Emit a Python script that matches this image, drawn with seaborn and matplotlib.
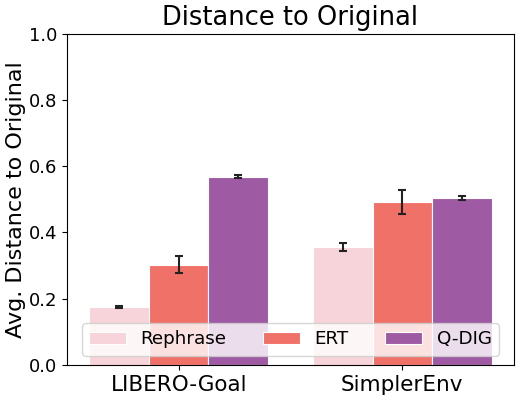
import matplotlib
matplotlib.use("Agg")
from matplotlib import pyplot
import seaborn
import pandas as pd

envs = ["LIBERO-Goal", "SimplerEnv"]
methods = ["Rephrase", "ERT", "Q-DIG"]
means = {
    "Rephrase": [0.176, 0.356],
    "ERT": [0.302, 0.492],
    "Q-DIG": [0.568, 0.504],
}
errs = {
    "Rephrase": [0.003, 0.013],
    "ERT": [0.026, 0.037],
    "Q-DIG": [0.005, 0.007],
}
colors = ["#F7D3DA", "#F07167", "#9E5AA3"]

rows = []
for m in methods:
    for env, v, e in zip(envs, means[m], errs[m]):
        rows.append({"Environment": env, "Method": m, "Distance": v, "Err": e})
df = pd.DataFrame(rows)

fig = pyplot.figure(figsize=(5.22, 4.01), dpi=100)
ax = fig.add_axes([0.128, 0.09, 0.857, 0.826])
seaborn.barplot(data=df, x="Environment", y="Distance", hue="Method",
                hue_order=methods, palette=colors, errorbar=None,
                saturation=1, edgecolor="white", linewidth=0.8, ax=ax)

# error bars at bar centres
for patch_group, m in zip(ax.containers, methods):
    sub = df[df["Method"] == m].set_index("Environment").loc[envs]
    xs = [p.get_x() + p.get_width() / 2 for p in patch_group]
    ax.errorbar(xs, sub["Distance"], yerr=sub["Err"], fmt="none",
                ecolor="#222222", elinewidth=1.5, capsize=3, capthick=1.5)

ax.set_ylim(0, 1.0)
ax.set_xlim(-0.5, 1.5)
ax.set_title("Distance to Original", fontsize=18.5)
ax.set_ylabel("Avg. Distance to Original", fontsize=16, labelpad=2)
ax.set_xlabel("")
ax.tick_params(axis="x", labelsize=15.5)
ax.tick_params(axis="y", labelsize=13)
ax.legend(loc="lower center", ncol=3, fontsize=13.2, framealpha=0.8,
          bbox_to_anchor=(0.5, 0.0))

fig.savefig("out.png", dpi=100)
